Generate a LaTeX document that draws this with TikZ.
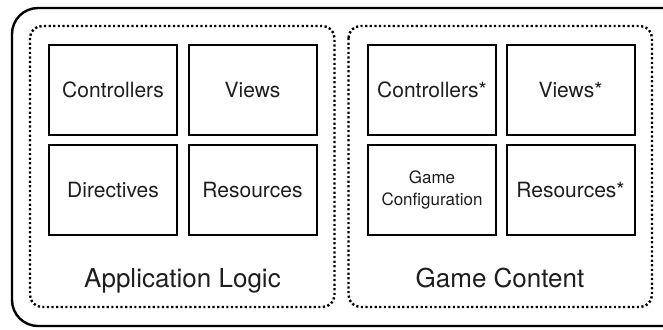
\documentclass[tikz,border=0pt]{standalone}
\usepackage{fontspec}
\setmainfont{TeX Gyre Heros}
\usetikzlibrary{positioning,fit}
\definecolor{ink}{HTML}{1E1E1E}
\begin{document}
\begin{tikzpicture}[x=1pt,y=-1pt,
  cell/.style={draw=black,line width=2pt,minimum width=128pt,minimum height=90pt,inner sep=0pt,text=ink,font=\fontsize{21}{25}\selectfont},
  group/.style={draw=black,line width=2.4pt,dash pattern=on 2.2pt off 2.4pt,rounded corners=12pt},
  outer/.style={draw=black,line width=2.4pt,rounded corners=26pt},
  grouplabel/.style={anchor=base,text=ink,font=\fontsize{26}{30}\selectfont,inner sep=0pt}]
\useasboundingbox (0,0) rectangle (663,329);
\clip (0,0) rectangle (663,329);
\draw[outer] (12,8) rectangle (700,326);
\draw[group] (30,26) rectangle (334.5,307);
\draw[group] (348.5,26) rectangle (652,307);
% Application logic
\node[cell] (ctl) at (113,90) {Controllers};
\node[cell] (vw) at (252.5,90) {Views};
\node[cell] (dir) at (113,190) {Directives};
\node[cell] (res) at (252.5,190) {Resources};
\node[grouplabel] (al) at (182.5,287) {Application Logic};
% Game content
\node[cell] (ctl2) at (432,90) {Controllers*};
\node[cell] (vw2) at (570.5,90) {Views*};
\node[cell,font=\fontsize{17}{21.5}\selectfont,align=center] (gc) at (432,190) {Game\\Configuration};
\node[cell] (res2) at (570.5,190) {Resources*};
\node[grouplabel] (gcl) at (500,287) {Game Content};
\end{tikzpicture}
\end{document}
